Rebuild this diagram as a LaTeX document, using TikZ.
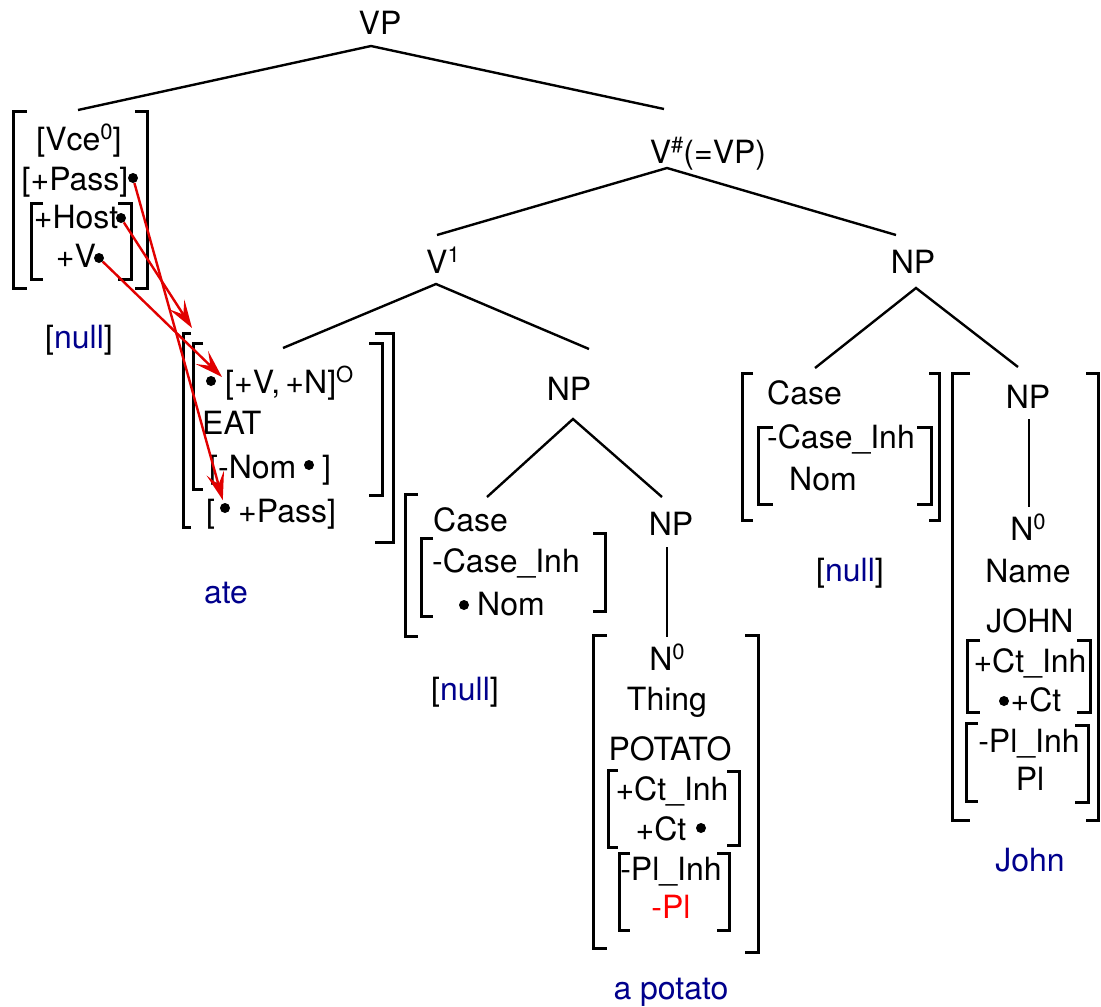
\documentclass[tikz,border=0pt]{standalone}
\usepackage{fontspec}
\setmainfont{TeX Gyre Heros}
\usepackage{xcolor}
\usetikzlibrary{arrows.meta}
\definecolor{gloss}{RGB}{0,0,140}
\definecolor{linkred}{RGB}{225,0,0}
\newcommand{\upidx}[1]{\raisebox{11pt}{\fontsize{22}{22}\selectfont #1}}

\begin{document}
\begin{tikzpicture}[
  x=1pt, y=-1pt,
  lbl/.style={anchor=base, inner sep=0pt, font=\fontsize{32}{38}\selectfont},
  lft/.style={lbl, anchor=base west},
  gl/.style={lbl, text=gloss},
  edge/.style={line width=2.4pt},
  brk/.style={line width=3pt},
  dot/.style={circle, fill=black, inner sep=0pt, minimum size=10pt},
  link/.style={-{Stealth[length=28pt,width=18pt,inset=12pt]}, linkred, line width=2.4pt}
]
\useasboundingbox (0,0) rectangle (1101,1007);

% tree labels
\node[lbl] (vp) at (380,34) {VP};
\node[lbl] (vsh) at (708,163) {V\upidx{\#}(=VP)};
\node[lbl] (v1) at (443,273) {V\upidx{1}};
\node[lbl] (np-obj) at (569,400) {NP};
\node[lbl] (np-subj) at (913,273) {NP};

% branch points
\coordinate (vp-a) at (371,46);
\coordinate (vce-t) at (78,110);
\coordinate (vsh-t) at (664,109);
\coordinate (vsh-a) at (667,168);
\coordinate (v1-t) at (437,235);
\coordinate (nps-t) at (896,235);
\coordinate (v1-a) at (436,284);
\coordinate (eat-t) at (283,348);
\coordinate (npo-t) at (589,349);
\coordinate (npo-a) at (573,419);
\coordinate (case1-t) at (487,497);
\coordinate (np2-t) at (662,497);
\coordinate (nps-a) at (916,288);
\coordinate (case2-t) at (815,368);
\coordinate (npj-t) at (1018,367);

\draw[edge] (vce-t) -- (vp-a) -- (vsh-t);
\draw[edge] (v1-t) -- (vsh-a) -- (nps-t);
\draw[edge] (eat-t) -- (v1-a) -- (npo-t);
\draw[edge] (case1-t) -- (npo-a) -- (np2-t);
\draw[edge] (case2-t) -- (nps-a) -- (npj-t);

% brackets: x / top / bottom / tick
\foreach \x/\ya/\yb/\t in {13/111/288/14, 147/111/288/-12, 31/203/279/12, 131/203/279/-13,
    183/333/527/8, 393/333/542/-18, 193/343/489/10, 382/343/495/-13,
    405/494/636/13, 421/538/616/12, 605/533/611/-12,
    593/635/948/14, 758/635/952/-13, 608/770/847/10, 739/771/845/-12,
    619/853/930/11, 729/853/930/-12,
    742/373/520/11, 939/373/520/-10, 758/427/504/15, 931/427/504/-14,
    952/373/820/18, 1098/373/820/-12, 967/640/712/13, 1090/640/712/-13,
    966/723/801/12, 1088/725/802/-13}
  \draw[brk] (\x+\t,\ya) -| (\x,\yb) -- (\x+\t,\yb);

% Vce
\node[lbl] (vce) at (79,150) {[Vce\upidx{0}]};
\node[lbl] (pass) at (75,190) {[+Pass]};
\node[dot] (d-pass) at (133,178) {};
\node[lbl] (host) at (76,228) {+Host};
\node[dot] (d-host) at (121,218) {};
\node[lbl] (plusv) at (76,267) {+V};
\node[dot] (d-v) at (99,258) {};
\node[lbl] (null-vce) at (79,348) {[\textcolor{gloss}{null}]};

% EAT
\node[dot] (d-vn) at (211,381) {};
\node[lft] (vn) at (225,393) {[+V,\,+N]\upidx{O}};
\node[lft] (eat) at (202,434) {EAT};
\node[lft] (nom-b) at (209,478) {[-Nom};
\node[dot] (d-nom) at (309,465) {};
\node[lft] (nom-c) at (322,478) {]};
\node[lft] (pass-b) at (206,522) {[};
\node[dot] (d-pass2) at (225,508) {};
\node[lft] (pass2) at (238,522) {+Pass]};
\node[gl] (ate) at (226,603) {ate};

% Case (object)
\node[lft] (case1) at (433,531) {Case};
\node[lft] (cinh1) at (432,572) {-Case\_Inh};
\node[dot] (d-nom1) at (464,605) {};
\node[lft] (nom1) at (477,615) {Nom};
\node[lbl] (null-c1) at (465,700) {[\textcolor{gloss}{null}]};

% POTATO
\node[lbl] (np-thing) at (671,535) {NP};
\node[lbl] (n0-thing) at (667,670) {N\upidx{0}};
\draw[edge, shorten <=12pt, shorten >=6pt] (np-thing.south -| 667,0) -- (n0-thing.north -| 667,0);
\node[lbl] (thing) at (667,710) {Thing};
\node[lbl] (potato) at (670,760) {POTATO};
\node[lbl] (ctinh1) at (672,800) {+Ct\_Inh};
\node[lbl] (ct1) at (661,840) {+Ct};
\node[dot] (d-ct1) at (701,828) {};
\node[lbl] (plinh1) at (671,880) {-Pl\_Inh};
\node[lbl, text=red] (pl1) at (671,918) {-Pl};
\node[gl] (apotato) at (671,999) {a potato};

% Case (subject)
\node[lft] (case2) at (767,404) {Case};
\node[lft] (cinh2) at (767,448) {-Case\_Inh};
\node[lft] (nom2) at (789,490) {Nom};
\node[lbl] (null-c2) at (850,581) {[\textcolor{gloss}{null}]};

% JOHN
\node[lbl] (np-john) at (1028,408) {NP};
\node[lbl] (n0-john) at (1028,540) {N\upidx{0}};
\draw[edge, shorten <=11pt, shorten >=6pt] (np-john.south -| 1029,0) -- (n0-john.north -| 1029,0);
\node[lbl] (name) at (1028,582) {Name};
\node[lbl] (john) at (1030,632) {JOHN};
\node[lbl] (ctinh2) at (1030,672) {+Ct\_Inh};
\node[dot] (d-ct2) at (1004,701) {};
\node[lbl] (ct2) at (1036,711) {+Ct};
\node[lbl] (plinh2) at (1029,752) {-Pl\_Inh};
\node[lbl] (pl2) at (1030,790) {Pl};
\node[gl] (john-gl) at (1030,871) {John};

% feature links
\coordinate (eat-tip) at (192,328);
\coordinate (vn-tip) at (222,377);
\draw[link, shorten >=3pt] (d-pass) -- (d-pass2);
\draw[link] (d-host) -- (eat-tip);
\draw[link] (d-v) -- (vn-tip);
\end{tikzpicture}
\end{document}
